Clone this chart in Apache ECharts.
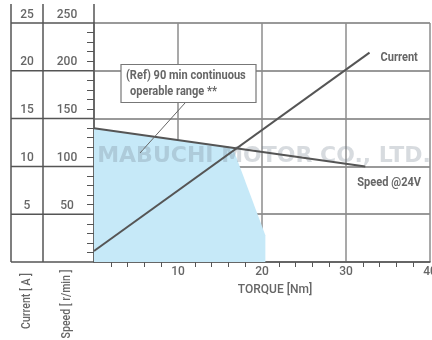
<!DOCTYPE html>
<html><head><meta charset="utf-8">
<script src="https://cdn.jsdelivr.net/npm/echarts@6/dist/echarts.min.js"></script>
<style>html,body{margin:0;padding:0;background:#fff}#c{width:432px;height:340px}</style>
</head><body><div id="c"></div>
<script>
// Data
const currentTorque = [0, 32.8];
const currentValues = [1.15, 21.9];
const speedTorque = [0, 32.3];
const speedValues = [140, 100];
const rangeTorque = [0, 0, 16.5, 20.4, 20.4];
const rangeSpeed = [0, 140, 120, 28, 0];
const currentTicks = [0, 5, 10, 15, 20, 25];
const torqueTicks = [0, 10, 20, 30, 40];

const pair = (xs, ys) => xs.map((x, i) => [x, ys[i]]);
const gray = '#666';

const chart = echarts.init(document.getElementById('c'), null, {renderer: 'canvas'});
const option = {
  backgroundColor: '#fff',
  animation: false,
  grid: {left: 94, right: 2, top: 23, bottom: 78, containLabel: false, outerBoundsMode: 'none'},
  xAxis: {
    type: 'value', min: 0, max: 40, interval: 10,
    name: 'TORQUE [Nm]', nameLocation: 'middle', nameGap: 22,
    nameTextStyle: {color: gray, fontFamily: 'Roboto', fontWeight: 500, fontSize: 12, padding: [0, 0, 0, 26]},
    axisLine: {show: true, lineStyle: {color: '#555', width: 1.5}},
    axisTick: {show: false},
    minorTick: {show: true, splitNumber: 5, length: 5, lineStyle: {color: '#555', width: 1}},
    axisLabel: {color: gray, fontFamily: 'Roboto', fontWeight: 500, fontSize: 12, margin: 4,
      hideOverlap: false, formatter: v => v === 0 ? '' : String(v)},
    splitLine: {show: true, lineStyle: {color: '#8c8c8c', width: 1.5}},
    minorSplitLine: {show: false}
  },
  yAxis: [{
    type: 'value', min: 0, max: 25, interval: 5, position: 'left',
    axisLine: {show: true, lineStyle: {color: '#555', width: 1.5}},
    axisTick: {show: false},
    minorTick: {show: true, splitNumber: 5, length: 7, lineStyle: {color: '#555', width: 1}},
    axisLabel: {color: gray, fontFamily: 'Roboto', fontWeight: 500, fontSize: 12, margin: 67,
      align: 'center', verticalAlign: 'bottom', lineHeight: 17,
      formatter: v => v === 0 ? '' : String(v)},
    splitLine: {show: true, lineStyle: {color: '#777', width: 1.5}}
  }, {
    type: 'value', min: 0, max: 250, interval: 50, position: 'left',
    axisLine: {show: false}, axisTick: {show: false},
    axisLabel: {color: gray, fontFamily: 'Roboto', fontWeight: 500, fontSize: 12, margin: 27,
      align: 'center', verticalAlign: 'bottom', lineHeight: 17,
      formatter: v => v === 0 ? '' : String(v)},
    splitLine: {show: false}
  }],
  series: [{
    type: 'line', name: 'range', yAxisIndex: 1, z: 1,
    data: pair(rangeTorque, rangeSpeed), symbol: 'none',
    lineStyle: {width: 0}, areaStyle: {color: '#c6e9f8', opacity: 1}
  }, {
    type: 'line', name: 'Current', yAxisIndex: 0, z: 5,
    data: pair(currentTorque, currentValues), symbol: 'none',
    lineStyle: {color: '#555', width: 2}
  }, {
    type: 'line', name: 'Speed @24V', yAxisIndex: 1, z: 5,
    data: pair(speedTorque, speedValues), symbol: 'none',
    lineStyle: {color: '#555', width: 2}
  }]
};
chart.setOption(option);

// Decorations: left table, annotation, watermark, axis names, series labels
const y0 = chart.convertToPixel({yAxisIndex: 0}, 0);
const yTop = chart.convertToPixel({yAxisIndex: 0}, 25);
const xL = chart.convertToPixel({xAxisIndex: 0}, 0);
const lineStyle = {stroke: '#555', lineWidth: 1.5};
const g = [];
currentTicks.forEach(v => {
  const y = chart.convertToPixel({yAxisIndex: 0}, v);
  g.push({type: 'line', shape: {x1: 11, y1: y, x2: xL, y2: y}, style: lineStyle, z: 10});
});
[11, 43].forEach(x => g.push({type: 'line', shape: {x1: x, y1: 4, x2: x, y2: y0}, style: lineStyle, z: 10}));
g.push({type: 'line', shape: {x1: xL, y1: 4, x2: xL, y2: yTop}, style: lineStyle, z: 10});
g.push({type: 'text', x: 27, y: 301, rotation: Math.PI / 2, scaleX: 0.88,
  style: {text: 'Current [ A ]', fill: gray, font: "500 12px Roboto", align: 'center', verticalAlign: 'middle'}, z: 10});
g.push({type: 'text', x: 67, y: 304, rotation: Math.PI / 2, scaleX: 0.88,
  style: {text: 'Speed [ r/min ]', fill: gray, font: "500 12px Roboto", align: 'center', verticalAlign: 'middle'}, z: 10});
// series end labels
const cEnd = chart.convertToPixel({xAxisIndex: 0, yAxisIndex: 0}, [currentTorque[1], currentValues[1]]);
const sEnd = chart.convertToPixel({xAxisIndex: 0, yAxisIndex: 1}, [speedTorque[1], speedValues[1]]);
g.push({type: 'text', x: cEnd[0] + 11, y: cEnd[1] + 5, scaleX: 0.85, z: 21,
  style: {text: 'Current', fill: gray, font: "bold 13px Roboto", verticalAlign: 'middle'}});
g.push({type: 'text', x: sEnd[0] - 8, y: sEnd[1] + 16, scaleX: 0.85, z: 21,
  style: {text: 'Speed @24V', fill: gray, font: "bold 13px Roboto", verticalAlign: 'middle'}});
// watermark
g.push({type: 'text', x: 264, y: 156, z: 3,
  style: {text: 'MABUCHI MOTOR CO., LTD.', fill: 'rgba(110,125,140,0.28)', font: "bold 22px 'DejaVu Sans'", align: 'center', verticalAlign: 'middle'}});
// annotation
g.push({type: 'line', shape: {x1: 185, y1: 103, x2: 140, y2: 153}, style: {stroke: '#666', lineWidth: 1}, z: 20});
g.push({type: 'rect', shape: {x: 121, y: 64.5, width: 135, height: 38}, style: {fill: '#fff', stroke: '#777', lineWidth: 1.2}, z: 20});
g.push({type: 'text', x: 126, y: 76, scaleX: 0.85, z: 21,
  style: {text: '(Ref) 90 min continuous', fill: gray, font: "bold 13px Roboto", verticalAlign: 'middle'}});
g.push({type: 'text', x: 130, y: 92, scaleX: 0.85, z: 21,
  style: {text: 'operable range **', fill: gray, font: "bold 13px Roboto", verticalAlign: 'middle'}});
chart.setOption({graphic: g});
</script></body></html>
